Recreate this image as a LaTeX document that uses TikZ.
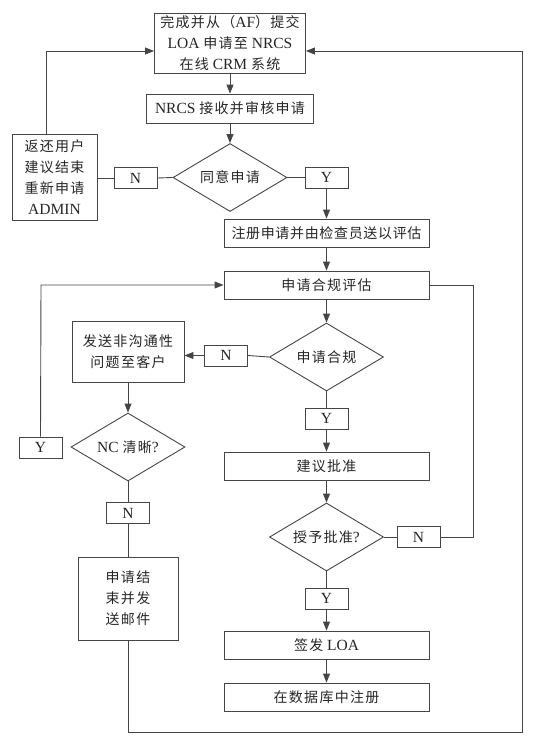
\documentclass[tikz,border=0pt]{standalone}
\usepackage{fontspec}
\setmainfont{Liberation Serif}
\newfontfamily\cjk[LetterSpace=9]{Noto Sans CJK SC}
\newcommand\C[1]{{\fontsize{14}{21}\selectfont\cjk #1}}
\usetikzlibrary{shapes.geometric,arrows.meta}
\definecolor{lc}{HTML}{454545}
\definecolor{tc}{HTML}{262626}
\begin{document}
\begin{tikzpicture}[x=1pt,y=-1pt,
  base/.style={draw=lc, line width=0.9pt, inner sep=0pt, align=center, text=tc,
    font=\fontsize{15.5}{21}\selectfont},
  box/.style={base, rectangle},
  dia/.style={base, diamond, aspect=1.7, minimum width=114pt, minimum height=68pt},
  yn/.style={box, minimum width=43pt, minimum height=21pt},
  wide/.style={box, minimum width=205pt, minimum height=28pt},
  conn/.style={draw=lc, line width=0.9pt},
  arr/.style={conn, -{Triangle[length=9pt,width=7pt]}}]
\useasboundingbox (0,0) rectangle (537,745);

% nodes
\node[box, minimum width=151pt, minimum height=60pt] (top) at (230,43)
  {\C{完成并从（}AF\C{）提交}\\LOA \C{申请至} NRCS\\\C{在线} CRM \C{系统}};
\node[box, minimum width=167pt, minimum height=29pt] (nrcs) at (230,108.5)
  {NRCS \C{接收并审核申请}};
\node[dia] (d1) at (230,177.5) {\C{同意申请}};
\node[yn] (n1) at (135.5,178) {N};
\node[box, minimum width=85pt, minimum height=86pt] (admin) at (54.5,177)
  {\C{返还用户}\\\C{建议结束}\\\C{重新申请}\\ADMIN};
\node[yn] (y1) at (326.5,177.5) {Y};
\node[wide] (reg) at (326.5,233)
  {\hbox to 190pt{\C{注\hfill 册\hfill 申\hfill 请\hfill 并\hfill 由\hfill 检\hfill 查\hfill 员\hfill 送\hfill 以\hfill 评\hfill 估}}};
\node[wide] (eval) at (326.5,285) {\C{申请合规评估}};
\node[dia] (d2) at (326.5,357) {\C{申请合规}};
\node[yn] (n2) at (226,355.5) {N};
\node[box, minimum width=112pt, minimum height=61pt] (send) at (128,351.5)
  {\C{发送非沟通性}\\\C{问题至客户}};
\node[dia] (d3) at (128,447) {NC \C{清晰}?};
\node[yn] (y3) at (40.5,447.5) {Y};
\node[yn] (n3) at (128,513) {N};
\node[box, minimum width=100pt, minimum height=83pt] (end) at (128,598.5)
  {\C{申请结}\\\C{束并发}\\\C{送邮件}};
\node[yn] (y2) at (326.5,418.5) {Y};
\node[wide] (rec) at (326.5,466) {\C{建议批准}};
\node[dia] (d4) at (326.5,537) {\C{授予批准}?};
\node[yn] (n4) at (418.5,537) {N};
\node[yn] (y4) at (326.5,598.5) {Y};
\node[wide] (loa) at (326.5,645) {\C{签发} LOA};
\node[wide] (db) at (326.5,697) {\C{在数据库中注册}};

% helper coordinates
\coordinate (aup) at (46,134);
\coordinate (atop) at (46,51);
\coordinate (rtop) at (522,51);
\coordinate (rbot) at (522,732);
\coordinate (lbot) at (128,732);
\coordinate (ytop) at (41,285);
\coordinate (nr) at (473,537);
\coordinate (er) at (473,285);

% connectors
\draw[arr] (top) -- (nrcs);
\draw[arr] (nrcs) -- (d1);
\draw[conn] (d1.west) -- (n1.east);
\draw[conn] (n1.west) -- (admin.east |- n1.west);
\draw[arr] (aup) -- (atop) -- (top.west |- atop);
\draw[conn] (d1.east) -- (y1.west);
\draw[arr] (y1) -- (reg);
\draw[arr] (reg) -- (eval);
\draw[arr] (eval) -- (d2);
\draw[conn] (d2.west) -- (n2.east);
\draw[arr] (n2.west) -- (send.east |- n2.west);
\draw[conn] (d2.south) -- (y2.north);
\draw[arr] (y2) -- (rec);
\draw[arr] (rec) -- (d4);
\draw[conn] (d4.east) -- (n4.west);
\draw[conn] (n4.east) -- (nr) -- (er) -- (eval.east);
\draw[conn] (d4.south) -- (y4.north);
\draw[arr] (y4) -- (loa);
\draw[arr] (loa) -- (db);
\draw[arr] (send) -- (d3);
\draw[conn] (d3.south) -- (n3.north);
\draw[conn] (n3.south) -- (end.north);
\draw[arr] (y3.north) -- (ytop) -- (eval.west);
\draw[arr] (end.south) -- (lbot) -- (rbot) -- (rtop) -- (top.east |- rtop);
\end{tikzpicture}
\end{document}
